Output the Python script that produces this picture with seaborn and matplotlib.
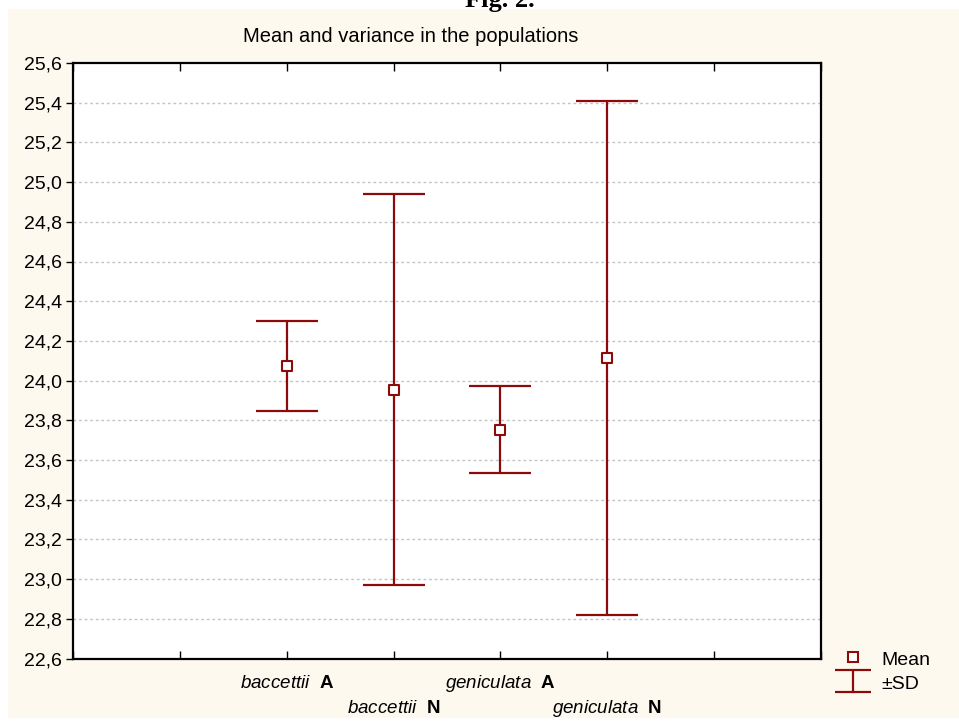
import matplotlib
matplotlib.use("Agg")
import matplotlib.pyplot as plt
import seaborn as sns
import pandas as pd
from matplotlib.patches import Rectangle
from matplotlib.lines import Line2D
from matplotlib.path import Path

# Population means and standard deviations
populations = ["baccettii A", "baccettii N", "geniculata A", "geniculata N"]
species = ["baccettii", "baccettii", "geniculata", "geniculata"]
origin = ["A", "N", "A", "N"]
means = [24.075, 23.953, 23.753, 24.114]
sds = [0.227, 0.985, 0.220, 1.295]
positions = [2, 3, 4, 5]

y_ticks = [22.6, 22.8, 23.0, 23.2, 23.4, 23.6, 23.8, 24.0, 24.2, 24.4, 24.6, 24.8,
           25.0, 25.2, 25.4, 25.6]

df = pd.DataFrame({"pos": positions, "mean": means, "sd": sds, "population": populations})

sns.set_theme(style="white")
plt.rcParams["font.family"] = ["Liberation Sans", "DejaVu Sans"]
plt.rcParams["mathtext.fontset"] = "custom"
plt.rcParams["mathtext.rm"] = "Liberation Sans"
plt.rcParams["mathtext.it"] = "Liberation Sans:italic"
plt.rcParams["mathtext.bf"] = "Liberation Sans:bold"
for key in ("text.color", "xtick.color", "ytick.color", "axes.labelcolor", "axes.edgecolor"):
    plt.rcParams[key] = "black"

RED = "#8C0A0A"
CREAM = "#FEF9EE"

fig = plt.figure(figsize=(9.59, 7.22), dpi=100, facecolor="white")
W, H = 959, 722

# cream panel behind the chart
fig.patches.append(Rectangle((8 / W, 4 / H), 951 / W, 709 / H, transform=fig.transFigure,
                             facecolor=CREAM, edgecolor="none", zorder=-5))
fig.text(500 / W, 1 - 7 / H, "Fig. 2.", family=["Liberation Serif"], weight="bold",
         fontsize=19, ha="center", va="baseline", zorder=5)

ax = fig.add_axes([73 / W, 1 - 658.5 / H, (821 - 73) / W, (658.5 - 63) / H])
ax.set_zorder(2)
ax.set_facecolor("white")

# SD bars
ax.errorbar(df["pos"], df["mean"], yerr=df["sd"], fmt="none", ecolor=RED,
            elinewidth=1.6, capsize=22, capthick=1.6, zorder=3)
# means
sns.scatterplot(data=df, x="pos", y="mean", marker="s", s=46, color="white",
                edgecolor=RED, linewidth=1.5, zorder=4, ax=ax, legend=False)

ax.set_xlim(0, 7)
ax.set_ylim(22.6, 25.6)
ax.set_yticks(y_ticks)
ax.set_yticklabels([f"{v:.1f}".replace(".", ",") for v in y_ticks], fontsize=14)
ax.set_xticks(range(8))
xlabels = [""] * 8
for p, sp, o in zip(positions, species, origin):
    xlabels[p] = r"$\it{" + sp + r"}$  $\bf{" + o + r"}$"
ax.set_xticklabels(xlabels, fontsize=13.5)
ax.set_xlabel("")
ax.set_ylabel("")

ax.tick_params(axis="x", which="major", direction="in", length=6, width=1,
               top=True, bottom=True, colors="black")
ax.tick_params(axis="y", which="major", direction="out", length=5, width=1,
               left=True, right=False, pad=3, colors="black")
# staggered category labels on two baselines
for i, t in enumerate(ax.xaxis.get_major_ticks()):
    t.set_pad(39.5 if i in (3, 5) else 21.5)
    t.label1.set_va("baseline")

for yv in y_ticks[1:-1]:
    ax.axhline(yv, color="#C4C4C4", lw=1.0, ls=(0, (2, 2)), zorder=1)

for s in ax.spines.values():
    s.set_visible(True)
    s.set_color("black")
    s.set_linewidth(1.6)

fig.text(411 / W, 1 - 37 / H, "Mean and variance in the populations", fontsize=14.5,
         ha="center", va="center")

# legend glyph for the SD bar: top cap, stem, bottom cap
sd_path = Path([(-1, 0.6), (1, 0.6), (0, 0.6), (0, -0.6), (-1, -0.6), (1, -0.6)],
               [Path.MOVETO, Path.LINETO, Path.MOVETO, Path.LINETO, Path.MOVETO, Path.LINETO])
handles = [Line2D([], [], marker="s", ls="none", markersize=6.8, markerfacecolor="white",
                  markeredgecolor=RED, markeredgewidth=1.5),
           Line2D([], [], marker=sd_path, ls="none", markersize=26, markerfacecolor="none",
                  markeredgecolor=RED, markeredgewidth=1.6)]
fig.legend(handles, ["Mean", "±SD"], loc="upper left",
           bbox_to_anchor=(816 / W, 1 - 631 / H), frameon=False, fontsize=14,
           handlelength=1.96, handleheight=1.2, handletextpad=0.5, labelspacing=0.2,
           borderpad=0.4)

fig.savefig("out.png", dpi=100, facecolor="white")
